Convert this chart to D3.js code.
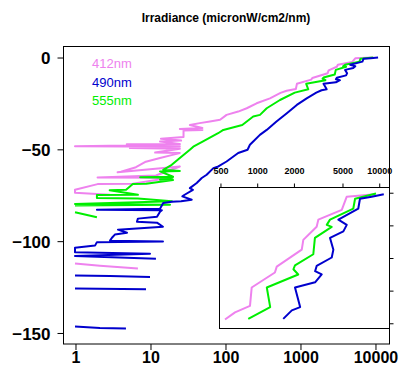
<!DOCTYPE html>
<html>
<head>
<meta charset="utf-8">
<script src="https://cdn.jsdelivr.net/npm/d3@7"></script>
<style>
  body { margin: 0; background: #fff; }
  text { font-family: "Liberation Sans", Arial, Helvetica, sans-serif; }
</style>
</head>
<body>
<svg id="chart" width="400" height="368"></svg>
<script>
// Downwelling irradiance profiles (depth in m, irradiance in microW/cm2/nm).
// null entries mark readings that fall off the log axis (gaps in the trace).
const seriesNames = ["412nm", "490nm", "555nm"];
const seriesColors = ["#ee82ee", "#0000cd", "#00ee00"];

const depth412 = [-0.3, -0.7, -2.7, -4.2, -5.3, -7.3, -8.8, -11.4, -12.3, -14.6, -17.4, -18.4, -19.5,
  -22.5, -25.2, -27.9, -29.7, -31.5, -34.2, -35.1, -36.0, -37.0,
  -38.6, -39.2, -39.7, -40.0, -43.5, -44.5, -45.5, -46.0,
  -47.3, -47.5, -47.8, -48.6, -48.9, -49.6, -50.0, -52.0, -52.3, -53.3,
  -55.0, -57.0, -60.0, -62.5, -62.8, -59.6, -64.5, -65.6, -65.8, -69.0, -69.2, -72.3, -73.9, -75.0,
  null, -112.5, -113.6, -115.2];
const irr412 = [9310, 5460, 4980, 3200, 3100, 2410, 2340, 1460, 1410, 910, 881, 664, 550,
  398, 264, 195, 150, 105, 86, 63, 46, 34,
  50, 25, 50, 28, 28, 14, 26, 13.6,
  25, 4.9, 25, 1, 25, 5.4, 25, 11.7, 25, 20,
  13.6, 8.8, 6.5, 4.1, 3.7, 25, 12, 2, 18.5, 5.9, 2, 1, 1, 2.9,
  null, 1, 2.15, 6.9];

const depth490 = [-0.3, -0.7, -1.0, -2.5, -4.2, -5.0, -6.0, -7.0, -8.8, -10.0, -11.3, -12.1, -12.6, -13.8,
  -14.6, -17.6, -18.1, -19.4,
  -22.5, -26.1, -30.6, -35.1, -39.7, -42.4, -46.0, -47.8, -50.5, -52.3, -56.9, -59.6, -60.5,
  -64.1, -65.9, -68.6, -71.4, -72.3, -75.0, -75.9, -77.7, -78.6, -78.8, -79.5,
  -82.6, -83.2, -83.4, -84.2, -87.0, -88.0, -89.7, -90.2, -92.4,
  -94.0, -95.7, -96.7, -98.4, -100.0, -100.4, -100.8, -102.7, -103.8,
  -106.3, -107.1, -108.4, -109.8,
  null, -119.0, -119.3, -119.8,
  null, -126.1, -126.4,
  null, -146.7, -147.6, -147.8];
const irr490 = [11000, 8750, 7020, 6800, 4670, 5470, 5130, 3990, 4250, 4120, 3100, 3010, 3410, 3010,
  2060, 2270, 1940, 1650,
  1228, 907, 668, 486, 360, 292, 238, 215, 200, 150, 105, 81.5, 70,
  57, 49, 42, 34, 37.4, 29, 27, 36, 26, 19.5, 15,
  13.6, 1.96, 14.4, 13.6, 12.4, 6.9, 6.7, 12.4, 14.9,
  3.74, 4.94, 3.4, 3.11, 2.93, 14.9, 1.96, 1.85, 1,
  1, 10, 1, 12,
  null, 1, 2.93, 10,
  null, 1, 8.85,
  null, 1, 2.15, 4.78];

const depth555 = [-0.2, -1.0, -2.5, -4.2, -5.0, -5.3, -7.0, -9.5, -11.2, -11.8, -12.6, -14.6, -17.6, -19.4,
  -23.4, -27.9, -31.5, -32.4, -37.0, -39.7, -41.5, -46.0, -48.8, -50.5, -55.0, -58.7, -61.4,
  -62.0, -62.3, -65.2, -65.5, -65.8, -66.8, -67.0, -69.0, -69.2, -72.3, -72.5, -75.0, -75.2, -76.8, -77.1,
  -78.6, -80.0, -80.5, -80.8,
  null, -84.5, -87.2];
const irr555 = [9500, 6400, 6190, 3990, 3750, 4120, 3000, 2910, 2060, 2000, 2190, 1210, 1290, 853,
  541, 360, 293, 238, 170, 95, 81, 51, 37.8, 34, 25, 19.5, 15,
  25, 13.6, 20.3, 7.4, 20, 13.6, 20.3, 8.9, 5.9, 4.8, 2.9, 6.9, 1.96, 1.96, 6.9,
  19.6, 1, 18.5, 1,
  null, 1, 1.96];

const xTicks = [1, 10, 100, 1000, 10000];
const yTicks = [0, -50, -100, -150];
const insetXTicks = [500, 1000, 2000, 5000, 10000];
const insetYTicks = [0, -5, -10, -15, -20];
const chartTitle = "Irradiance (micronW/cm2/nm)";

const profiles = [
  { name: seriesNames[0], color: seriesColors[0], depth: depth412, irr: irr412 },
  { name: seriesNames[1], color: seriesColors[1], depth: depth490, irr: irr490 },
  { name: seriesNames[2], color: seriesColors[2], depth: depth555, irr: irr555 }
].map(s => ({ ...s, pts: s.depth.map((d, i) => ({ d, v: s.irr[i] })) }));

// drawing order: violet, green, blue on top
const drawOrder = [profiles[0], profiles[2], profiles[1]];

const svg = d3.select("#chart");
const fontFam = "'Liberation Sans', Arial, sans-serif";

// ---- main panel ----
const box = { left: 63, top: 46, right: 389, bottom: 343.5 };
const x = d3.scaleLog().domain([Math.pow(10, -0.16), Math.pow(10, 4.187)]).range([box.left, box.right]);
const y = d3.scaleLinear().domain([6, -156]).range([box.top, box.bottom]);

svg.append("text")
  .attr("x", 226).attr("y", 22)
  .attr("text-anchor", "middle")
  .attr("font-size", 12).attr("font-weight", "bold")
  .text(chartTitle);

svg.append("defs").append("clipPath").attr("id", "mainClip")
  .append("rect").attr("x", box.left).attr("y", box.top)
  .attr("width", box.right - box.left).attr("height", box.bottom - box.top);

const line = d3.line()
  .defined(p => p.d !== null && p.v !== null)
  .x(p => x(p.v)).y(p => y(p.d));

const mainG = svg.append("g").attr("clip-path", "url(#mainClip)");
drawOrder.forEach(s => {
  mainG.append("path")
    .attr("d", line(s.pts))
    .attr("fill", "none")
    .attr("stroke", s.color)
    .attr("stroke-width", 2)
    .attr("stroke-linejoin", "round");
});

svg.append("rect")
  .attr("x", box.left + 0.5).attr("y", box.top + 0.5)
  .attr("width", box.right - box.left).attr("height", box.bottom - box.top)
  .attr("fill", "none").attr("stroke", "#000").attr("stroke-width", 1);

const xAxis = d3.axisBottom(x).tickValues(xTicks).tickFormat(d3.format("d")).tickSize(6).tickPadding(2);
const gx = svg.append("g").attr("transform", `translate(0.5,${box.bottom + 0.5})`).call(xAxis);
gx.select(".domain").remove();
gx.selectAll("text").attr("font-size", 16).attr("font-weight", "bold")
  .attr("font-family", fontFam).attr("fill", "#000");

const yAxis = d3.axisLeft(y).tickValues(yTicks).tickFormat(d3.format("d")).tickSize(6).tickPadding(7);
const gy = svg.append("g").attr("transform", `translate(${box.left + 0.5},0.5)`).call(yAxis);
gy.select(".domain").remove();
gy.selectAll("text").attr("font-size", 17).attr("font-weight", "bold")
  .attr("font-family", fontFam).attr("fill", "#000")
  .attr("dy", "0.36em");

// legend
profiles.forEach((s, i) => {
  svg.append("text")
    .attr("x", 92).attr("y", 68 + i * 18.5)
    .attr("font-size", 13)
    .attr("fill", s.color)
    .text(s.name);
});

// ---- inset: top 20 m ----
const ibox = { left: 219, top: 187, right: 389, bottom: 328 };
const ix = d3.scaleLog().domain([491, 12140]).range([ibox.left, ibox.right]);
const iy = d3.scaleLinear().domain([0.8, -20.8]).range([ibox.top, ibox.bottom]);

svg.append("rect")
  .attr("x", ibox.left + 0.5).attr("y", ibox.top + 0.5)
  .attr("width", ibox.right - ibox.left).attr("height", ibox.bottom - ibox.top)
  .attr("fill", "#fff").attr("stroke", "none");

svg.select("defs").append("clipPath").attr("id", "insetClip")
  .append("rect").attr("x", ibox.left).attr("y", ibox.top)
  .attr("width", ibox.right - ibox.left).attr("height", ibox.bottom - ibox.top);

const iline = d3.line()
  .defined(p => p.d !== null && p.v !== null)
  .x(p => ix(p.v)).y(p => iy(p.d));

const insetG = svg.append("g").attr("clip-path", "url(#insetClip)");
drawOrder.forEach(s => {
  const top = s.pts.filter(p => p.d !== null && p.d >= -20);
  insetG.append("path")
    .attr("d", iline(top))
    .attr("fill", "none")
    .attr("stroke", s.color)
    .attr("stroke-width", 2)
    .attr("stroke-linejoin", "round");
});

svg.append("rect")
  .attr("x", ibox.left + 0.5).attr("y", ibox.top + 0.5)
  .attr("width", ibox.right - ibox.left).attr("height", ibox.bottom - ibox.top)
  .attr("fill", "none").attr("stroke", "#000").attr("stroke-width", 1);

const ixAxis = d3.axisTop(ix).tickValues(insetXTicks).tickFormat(d3.format("d")).tickSize(4).tickPadding(10);
const gix = svg.append("g").attr("transform", `translate(0.5,${ibox.top + 0.5})`).call(ixAxis);
gix.select(".domain").remove();
gix.selectAll("text").attr("font-size", 9).attr("font-weight", "bold")
  .attr("font-family", fontFam).attr("fill", "#000");

const iyAxis = d3.axisRight(iy).tickValues(insetYTicks).tickFormat("").tickSize(4);
const giy = svg.append("g").attr("transform", `translate(${ibox.right + 0.5},0.5)`).call(iyAxis);
giy.select(".domain").remove();
</script>
</body>
</html>
